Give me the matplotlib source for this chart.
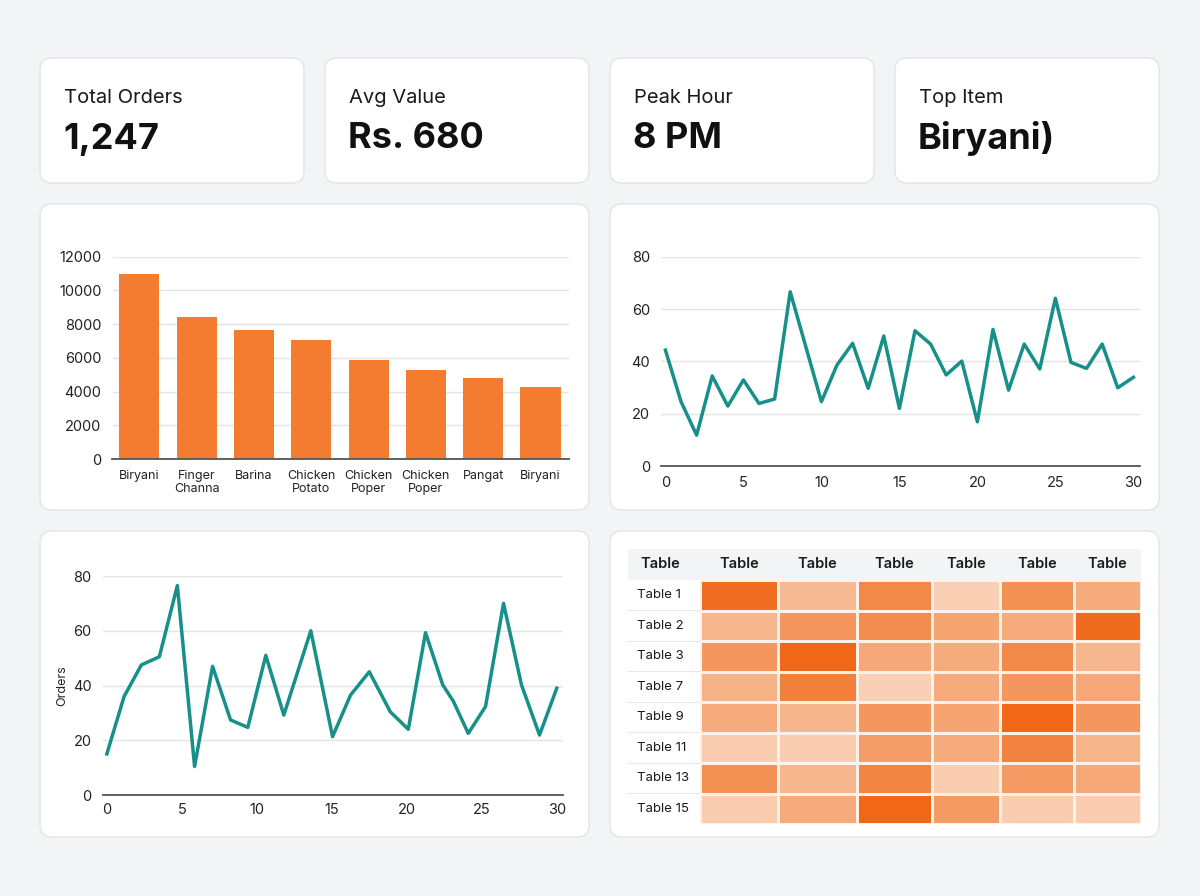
import numpy as np
import matplotlib.pyplot as plt
from matplotlib.patches import FancyBboxPatch, Rectangle
from matplotlib.colors import LinearSegmentedColormap

plt.rcParams['font.family'] = ['Inter', 'DejaVu Sans']

# kpi cards
kpi_labels = ['Total Orders', 'Avg Value', 'Peak Hour', 'Top Item']
kpi_values = ['1,247', 'Rs. 680', '8 PM', 'Biryani)']

# bar chart - orders per item
items = ['Biryani', 'Finger\nChanna', 'Barina', 'Chicken\nPotato', 'Chicken\nPoper',
         'Chicken\nPoper', 'Pangat', 'Biryani']
item_orders = [11000, 8450, 7650, 7050, 5850, 5250, 4800, 4250]

# top right line - daily orders
days = list(range(31))
day_orders = [44.3, 24.6, 11.8, 34.4, 22.9, 32.9, 23.9, 25.6, 66.6, 45.6, 24.6,
              38.6, 46.9, 29.7, 49.7, 22.0, 51.7, 46.6, 34.8, 40.1, 16.9,
              52.2, 29.0, 46.6, 37.1, 64.1, 39.6, 37.3, 46.6, 29.9, 33.9]

# bottom left line - orders
t = [0, 1.15, 2.3, 3.5, 4.7, 5.85, 7.05, 8.25, 9.4, 10.6, 11.8, 13.6, 15.05,
     16.25, 17.5, 18.9, 20.1, 21.25, 22.4, 23.1, 24.1, 25.25, 26.45, 27.65, 28.85, 30]
orders = [15, 36, 47.5, 50.5, 76.5, 10.4, 47, 27.4, 24.7, 51, 29.2, 60, 21.3,
          36.5, 45, 30.4, 24, 59.3, 40.2, 34.3, 22.5, 32.3, 70, 40.2, 21.9, 39]

# heatmap
heat_cols = ['Table', 'Table', 'Table', 'Table', 'Table', 'Table']
heat_rows = ['Table 1', 'Table 2', 'Table 3', 'Table 7', 'Table 9', 'Table 11',
             'Table 13', 'Table 15']
heat = [[0.95, 0.35, 0.75, 0.12, 0.70, 0.50],
        [0.38, 0.65, 0.72, 0.55, 0.50, 0.97],
        [0.65, 1.00, 0.52, 0.50, 0.75, 0.38],
        [0.42, 0.82, 0.12, 0.50, 0.65, 0.52],
        [0.50, 0.40, 0.65, 0.55, 1.00, 0.65],
        [0.15, 0.15, 0.60, 0.50, 0.80, 0.40],
        [0.70, 0.38, 0.78, 0.15, 0.62, 0.52],
        [0.15, 0.50, 1.00, 0.62, 0.15, 0.15]]

W, H = 1200, 896
teal = '#17908a'
orange = '#f47c30'
ink = '#1a1a1a'


def box(l, t_, r, b):
    return [l / W, 1 - b / H, (r - l) / W, (b - t_) / H]


fig = plt.figure(figsize=(12, 8.96), dpi=100)
fig.patch.set_facecolor('#f3f4f6')
bg = fig.add_axes([0, 0, 1, 1])
bg.set_xlim(0, W)
bg.set_ylim(H, 0)
bg.axis('off')


def card(l, t_, r, b):
    bg.add_patch(FancyBboxPatch((l, t_), r - l, b - t_,
                                boxstyle='round,pad=0,rounding_size=12',
                                fc='white', ec='#e2e4e8', lw=1))


# kpi cards
kpi_x = [40, 325, 610, 895]
for x0, lab, val in zip(kpi_x, kpi_labels, kpi_values):
    card(x0, 58, x0 + 264, 183)
    bg.text(x0 + 24, 98, lab, fontsize=14.5, color=ink, va='center')
    bg.text(x0 + 23, 139, val, fontsize=26, fontweight='bold', color='#111111', va='center')

# chart cards
card(40, 204, 589, 510)
card(610, 204, 1159, 510)
card(40, 531, 589, 837)
card(610, 531, 1159, 837)


def style(ax):
    for s in ['top', 'right', 'left']:
        ax.spines[s].set_visible(False)
    ax.spines['bottom'].set_color('#555555')
    ax.spines['bottom'].set_linewidth(1.3)
    ax.set_facecolor('none')
    ax.grid(axis='y', color='#e4e4e4', lw=1)
    ax.set_axisbelow(True)
    ax.tick_params(length=0, labelsize=10.5, colors='#222222')


# bar chart
ax1 = fig.add_axes(box(112.5, 256.7, 568.6, 459))
ax1.bar(range(len(items)), item_orders, width=0.7, color=orange)
style(ax1)
ax1.set_xlim(-0.47, 7.49)
ax1.set_ylim(0, 12000)
ax1.set_yticks(range(0, 12001, 2000))
ax1.set_xticks(range(len(items)))
ax1.set_xticklabels(items, fontsize=9, linespacing=1.1)
ax1.tick_params(axis='y', pad=8)
ax1.tick_params(axis='x', pad=8)

# top right line
ax2 = fig.add_axes(box(660.9, 256.7, 1139.6, 466))
ax2.plot(days, day_orders, color=teal, lw=2.5)
style(ax2)
ax2.set_xlim(-0.29, 30.4)
ax2.set_ylim(0, 80)
ax2.set_yticks([0, 20, 40, 60, 80])
ax2.set_xticks([0, 5, 10, 15, 20, 25, 30])
ax2.tick_params(axis='y', pad=8)
ax2.tick_params(axis='x', pad=7)

# bottom left line
ax3 = fig.add_axes(box(102.5, 576, 563.2, 795))
ax3.plot(t, orders, color=teal, lw=2.5)
style(ax3)
ax3.set_xlim(-0.29, 30.43)
ax3.set_ylim(0, 80)
ax3.set_yticks([0, 20, 40, 60, 80])
ax3.set_xticks([0, 5, 10, 15, 20, 25, 30])
ax3.tick_params(axis='y', pad=8)
ax3.tick_params(axis='x', pad=6)
ax3.set_ylabel('Orders', fontsize=9, color='#222222', labelpad=3)

# heatmap table
col_edges = [700, 778.4, 856.9, 931.6, 1000, 1073.7, 1141.4]
row_edges = np.linspace(580, 824, len(heat_rows) + 1)
bg.add_patch(Rectangle((627.5, 549.3), 1141.4 - 627.5, 580 - 549.3, fc='#f3f4f6', ec='none'))
bg.text(660, 564.5, 'Table', fontsize=10.5, fontweight='semibold', color=ink, ha='center', va='center')
for i, c in enumerate(heat_cols):
    bg.text((col_edges[i] + col_edges[i + 1]) / 2, 564.5, c, fontsize=10.5,
            fontweight='semibold', color=ink, ha='center', va='center')
for j, r in enumerate(heat_rows):
    bg.text(637, (row_edges[j] + row_edges[j + 1]) / 2, r, fontsize=9.5, color=ink, va='center')
    if j > 0:
        bg.plot([627.5, 700], [row_edges[j], row_edges[j]], color='#e8e8ec', lw=0.8)

cmap = LinearSegmentedColormap.from_list('or', ['#fbdcc6', '#f6ab7c', '#ef6717'])
ax4 = fig.add_axes(box(700, 580, 1141.4, 824))
ax4.pcolormesh(col_edges, row_edges, np.array(heat), cmap=cmap, vmin=0, vmax=1,
               edgecolors='#fdf1e8', linewidth=1.0)
ax4.set_xlim(700, 1141.4)
ax4.set_ylim(824, 580)
ax4.axis('off')

fig.savefig('out.png', dpi=100, facecolor=fig.get_facecolor())
